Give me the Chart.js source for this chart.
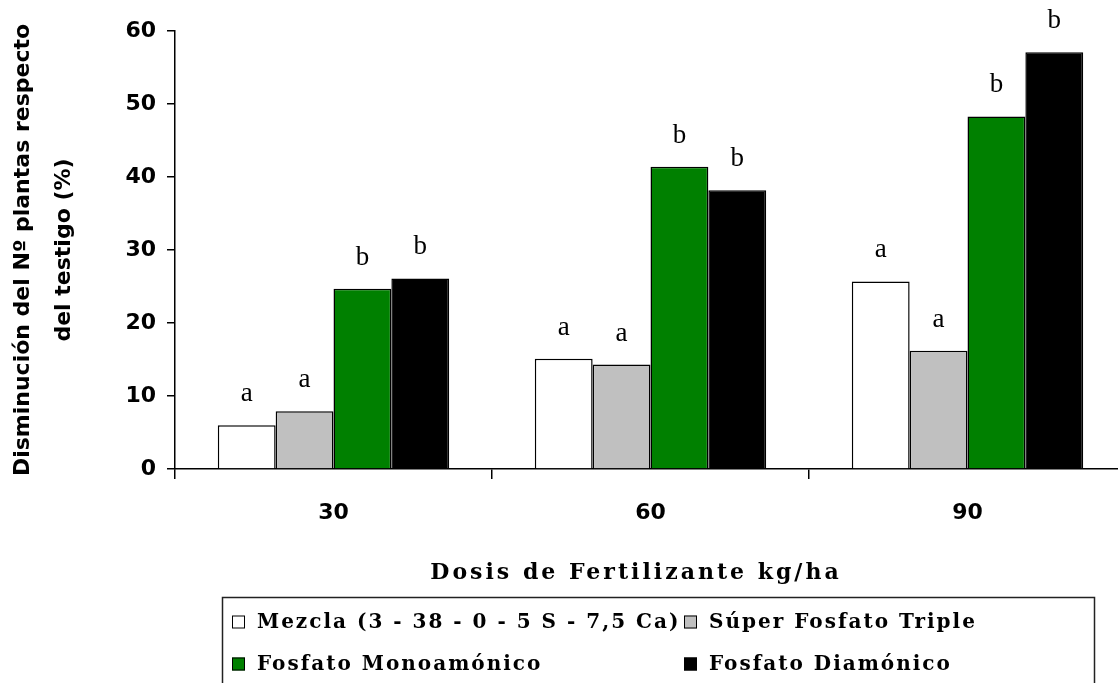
<!DOCTYPE html>
<html><head><meta charset="utf-8">
<script src="https://cdn.jsdelivr.net/npm/chart.js@4.4.1/dist/chart.umd.min.js"></script>
<style>
html,body{margin:0;padding:0;overflow:hidden;background:#fff;}
#wrap{position:relative;width:1128px;height:683px;}
</style></head><body>
<div id="wrap"><canvas id="c"></canvas></div>
<script>
const categories = ['30', '60', '90'];
const seriesNames = ['Mezcla (3 - 38 - 0 - 5 S - 7,5 Ca)', 'Súper Fosfato Triple', 'Fosfato Monoamónico', 'Fosfato Diamónico'];
const mezcla = [6.0, 15.1, 25.7];
const superFosfato = [7.9, 14.3, 16.2];
const monoamonico = [24.7, 41.4, 48.3];
const diamonico = [26.1, 38.2, 57.1];
const lettersMezcla = ['a', 'a', 'a'];
const lettersSuper = ['a', 'a', 'a'];
const lettersMono = ['b', 'b', 'b'];
const lettersDia = ['b', 'b', 'b'];
const yTitle = ['Disminución del Nº plantas respecto', 'del testigo (%)'];
const xTitle = 'Dosis de Fertilizante kg/ha';
const fillColors = ['#ffffff', '#c0c0c0', '#008000', '#000000'];

const values = [mezcla, superFosfato, monoamonico, diamonico];
const letters = [lettersMezcla, lettersSuper, lettersMono, lettersDia];

const decor = {
  id: 'decor',
  afterDraw(chart) {
    const ctx = chart.ctx;
    ctx.save();
    ctx.fillStyle = '#000';
    // significance letters
    ctx.font = '27px "Liberation Serif"';
    ctx.textAlign = 'center';
    ctx.textBaseline = 'alphabetic';
    chart.data.datasets.forEach((ds, i) => {
      const meta = chart.getDatasetMeta(i);
      meta.data.forEach((bar, j) => {
        ctx.fillText(ds.letters[j], bar.x, bar.y - 24);
      });
    });
    // x axis title
    ctx.font = 'bold 22px "DejaVu Serif"';
    ctx.letterSpacing = '3px';
    ctx.textBaseline = 'middle';
    ctx.fillText(xTitle, 636, 573);
    // legend
    ctx.letterSpacing = '2px';
    ctx.font = 'bold 20px "DejaVu Serif"';
    ctx.textAlign = 'left';
    ctx.strokeStyle = '#222';
    ctx.lineWidth = 1.5;
    ctx.strokeRect(222.5, 597.5, 872, 140);
    const pos = [[232, 622], [684, 622], [232, 664], [684, 664]];
    chart.data.datasets.forEach((ds, i) => {
      const [x, y] = pos[i];
      ctx.fillStyle = ds.backgroundColor;
      ctx.fillRect(x, y - 6.5, 13, 13);
      ctx.strokeStyle = '#000';
      ctx.lineWidth = 1;
      ctx.strokeRect(x + 0.5, y - 6, 12, 12);
      ctx.fillStyle = '#000';
      ctx.fillText(ds.label, x + 25, y + 1);
    });
    ctx.restore();
  }
};

new Chart(document.getElementById('c'), {
  type: 'bar',
  data: {
    labels: categories,
    datasets: seriesNames.map((name, i) => ({
      label: name,
      data: values[i],
      letters: letters[i],
      backgroundColor: fillColors[i],
      borderColor: '#000',
      borderWidth: 1.5,
      borderSkipped: 'start'
    }))
  },
  options: {
    responsive: true,
    maintainAspectRatio: false,
    animation: false,
    layout: { padding: { top: 31, left: 0, right: 2, bottom: 0 } },
    categoryPercentage: 0.73,
    barPercentage: 1.0,
    plugins: { legend: { display: false }, tooltip: { enabled: false } },
    scales: {
      x: {
        afterFit: s => { s.height = 214; },
        grid: { drawOnChartArea: false, drawTicks: true, tickLength: 10, color: '#000', lineWidth: 1.5, offset: true },
        border: { display: true, color: '#000', width: 1.5 },
        ticks: { color: '#000', padding: 21, font: { family: 'DejaVu Sans', weight: 'bold', size: 22 } }
      },
      y: {
        min: 0, max: 60,
        afterFit: s => { s.width = 175; },
        grid: { drawOnChartArea: false, drawTicks: true, tickLength: 8, color: '#000', lineWidth: 1.5 },
        border: { display: true, color: '#000', width: 1.5 },
        ticks: { stepSize: 10, color: '#000', padding: 11, font: { family: 'DejaVu Sans', weight: 'bold', size: 22 } },
        title: {
          display: true, text: yTitle, color: '#000',
          font: { family: 'DejaVu Sans', weight: 'bold', size: 22, lineHeight: 1.9 },
          padding: { top: 2, bottom: 0 }
        }
      }
    }
  },
  plugins: [decor]
});
</script>
</body></html>
